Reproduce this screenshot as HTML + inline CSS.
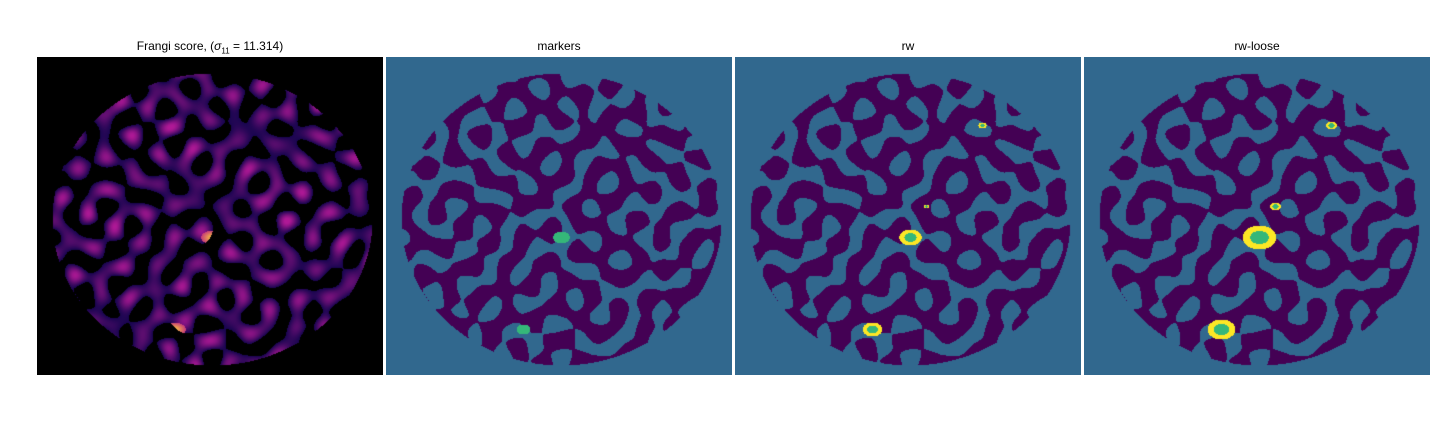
<!DOCTYPE html>
<html><head><meta charset="utf-8"><style>
body{margin:0;width:1440px;height:432px;background:#fff;position:relative;overflow:hidden;font-family:"Liberation Sans","DejaVu Sans",sans-serif}
.t{position:absolute;top:39px;font-size:12px;color:#000;text-align:center;width:346px}
canvas{position:absolute;top:57px}
</style></head><body>
<div class="t" style="left:37px">Frangi score, (<i>σ</i><sub style="font-size:8px">11</sub> = 11.314)</div>
<div class="t" style="left:386px">markers</div>
<div class="t" style="left:735px">rw</div>
<div class="t" style="left:1084px">rw-loose</div>
<canvas id="c0" width="346" height="318" style="left:37px"></canvas>
<canvas id="c1" width="346" height="318" style="left:386px"></canvas>
<canvas id="c2" width="346" height="318" style="left:735px"></canvas>
<canvas id="c3" width="346" height="318" style="left:1084px"></canvas>
<script>
const W=346,H=318,cx=175,cy=162,rx=160,ry=146;
const waves=[[0.071,0.043,0.3],[-0.052,0.066,1.1],[0.038,-0.075,2.0],[0.083,0.021,0.7],[-0.027,-0.061,2.6],[0.059,0.058,1.7],[0.012,0.089,0.2],[-0.088,0.015,0.9]];
const F=2.6;
function noise(x,y){let s=0;for(const w of waves)s+=Math.sin(F*(w[0]*x+w[1]*y)+w[2]);return s/waves.length*2.2;}
const lesX=[175,137,247,191], lesY=[180,272,68,149];
const rMark=[6,5,0,0], rRw=[8,7,3,2], rLoose=[12,10,4,4];
function isIn(x,y){const d=((x-cx)/rx)**2+((y-cy)/ry)**2;return d<1;}
for(let p=0;p<4;p++){
  const ctx=document.getElementById('c'+p).getContext('2d');
  const img=ctx.createImageData(W,H);const D=img.data;
  for(let y=0;y<H;y++)for(let x=0;x<W;x++){
    const i=(y*W+x)*4;let r,g,b;
    const n=noise(x,y);const inside=isIn(x,y);const vessel=inside&&n>-0.1;
    if(p==0){
      if(vessel){const v=Math.max(0,Math.min(1,(n+0.1)/1.6));
        r=25+v*150;g=5+v*20;b=80+v*70;
        let dl=1e9;for(let k=0;k<2;k++){const d=Math.hypot((x-lesX[k])/1.6,y-lesY[k]);dl=Math.min(dl,d);}
        if(dl<7){const t=(7-dl)/7;r=200+55*t;g=60+150*t;b=120-60*t;}
      }else{r=0;g=0;b=0;}
    }else{
      if(vessel){r=68;g=1;b=84;}else{r=49;g=104;b=142;}
      const rads=p==1?rMark:p==2?rRw:rLoose;
      for(let k=0;k<4;k++){if(!rads[k])continue;const d=Math.hypot((x-lesX[k])/1.4,y-lesY[k]);
        if(d<rads[k]){if(p==1||d<rads[k]*0.55){r=53;g=183;b=121;}else{r=253;g=231;b=37;}}}
    }
    D[i]=r;D[i+1]=g;D[i+2]=b;D[i+3]=255;
  }
  ctx.putImageData(img,0,0);
}
</script>
</body></html>
